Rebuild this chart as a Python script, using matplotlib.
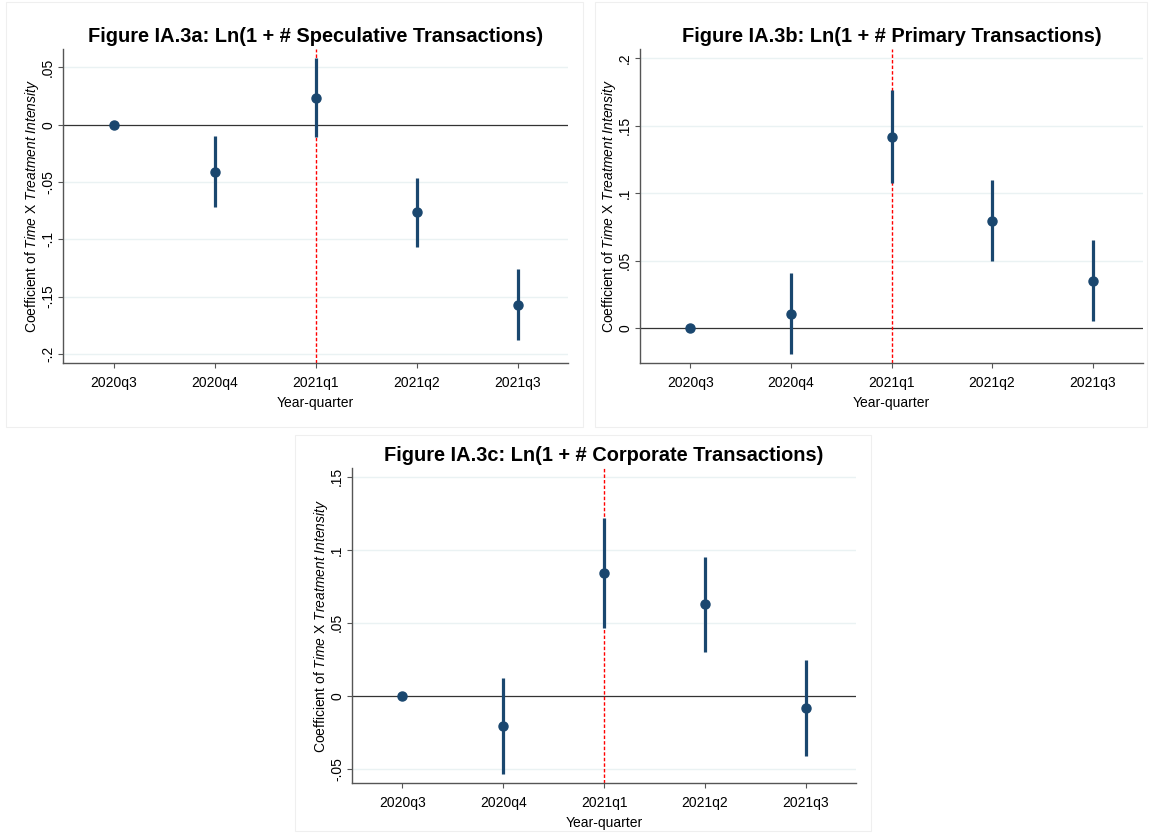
import numpy as np
import matplotlib
matplotlib.use("Agg")
import matplotlib.pyplot as plt
from matplotlib.patches import Rectangle

plt.rcParams['font.family'] = ['Liberation Sans', 'DejaVu Sans']
plt.rcParams['mathtext.fontset'] = 'custom'
plt.rcParams['mathtext.rm'] = 'Liberation Sans'
plt.rcParams['mathtext.it'] = 'Liberation Sans:italic'

# datos
quarters = ['2020q3', '2020q4', '2021q1', '2021q2', '2021q3']

spec_coef = [0.0, -0.041, 0.0235, -0.0765, -0.157]
spec_lo = [np.nan, -0.0718, -0.011, -0.107, -0.188]
spec_hi = [np.nan, -0.0102, 0.0578, -0.0462, -0.126]

prim_coef = [0.0, 0.0104, 0.1416, 0.0795, 0.0351]
prim_lo = [np.nan, -0.0196, 0.1074, 0.0495, 0.0054]
prim_hi = [np.nan, 0.0406, 0.1765, 0.1097, 0.0649]

corp_coef = [0.0, -0.0205, 0.0842, 0.063, -0.0082]
corp_lo = [np.nan, -0.0534, 0.0468, 0.0304, -0.0411]
corp_hi = [np.nan, 0.0123, 0.1217, 0.0954, 0.0247]

spec_ticks = [0.05, 0, -0.05, -0.1, -0.15, -0.2]
spec_ticklabels = ['.05', '0', '-.05', '-.1', '-.15', '-.2']
prim_ticks = [0, 0.05, 0.1, 0.15, 0.2]
prim_ticklabels = ['0', '.05', '.1', '.15', '.2']
corp_ticks = [-0.05, 0, 0.05, 0.1, 0.15]
corp_ticklabels = ['-.05', '0', '.05', '.1', '.15']

W, H = 1149, 833
fig = plt.figure(figsize=(W / 100, H / 100), dpi=100)
fig.patch.set_facecolor('white')

navy = '#1a476f'
gris = '#555555'


def caja(x0, y0, x1, y1):
    # borde tenue alrededor de cada panel (coordenadas en pixeles)
    fig.patches.append(Rectangle((x0 / W, 1 - y1 / H), (x1 - x0) / W, (y1 - y0) / H,
                                 transform=fig.transFigure, fill=False,
                                 edgecolor='#efefef', linewidth=0.8))


def panel(px, titulo, coef, lo, hi, ticks, ticklabels, ylim):
    x0, y0, x1, y1 = px
    ax = fig.add_axes([x0 / W, 1 - y1 / H, (x1 - x0) / W, (y1 - y0) / H])
    x = np.arange(1, len(quarters) + 1)

    for t in ticks:
        if t != 0:
            ax.axhline(t, color='#eaf2f3', linewidth=1.0, zorder=0)
    ax.axhline(0, color='#333333', linewidth=0.9, zorder=1)
    ax.axvline(3, color='#ff0000', linewidth=1.0, linestyle=(0, (2.5, 1.5)), zorder=1)

    for i in range(len(x)):
        if not np.isnan(lo[i]):
            ax.plot([x[i], x[i]], [lo[i], hi[i]], color=navy, linewidth=2.3,
                    solid_capstyle='butt', zorder=2)
    ax.plot(x, coef, 'o', color=navy, markersize=6.5, zorder=3)

    ax.set_xlim(0.5, 5.5)
    ax.set_ylim(ylim)
    ax.set_xticks(x)
    ax.set_xticklabels(quarters, fontsize=10)
    ax.set_yticks(ticks)
    ax.set_yticklabels(ticklabels, fontsize=10, rotation=90, va='center')
    ax.tick_params(axis='x', color=gris, length=3.6, width=0.8, pad=6)
    ax.tick_params(axis='y', color=gris, length=3.6, width=0.8, pad=2)
    for s in ['top', 'right']:
        ax.spines[s].set_visible(False)
    for s in ['left', 'bottom']:
        ax.spines[s].set_color(gris)
        ax.spines[s].set_linewidth(1.0)

    ax.set_xlabel('Year-quarter', fontsize=10, labelpad=4)
    ax.set_ylabel(r'Coefficient of $\mathit{Time}$ X $\mathit{Treatment\ Intensity}$',
                  fontsize=10, va='center')
    ax.yaxis.set_label_coords(-31.0 / (x1 - x0), 0.5)
    ax.set_title(titulo, fontsize=14.4, fontweight='bold', pad=5)
    return ax


caja(6, 2, 583, 427)
caja(595, 2, 1147, 427)
caja(295, 435, 871, 831)

panel((63, 49, 568, 363), 'Figure IA.3a: Ln(1 + # Speculative Transactions)',
      spec_coef, spec_lo, spec_hi, spec_ticks, spec_ticklabels, (-0.208, 0.066))
panel((640, 49, 1143, 363), 'Figure IA.3b: Ln(1 + # Primary Transactions)',
      prim_coef, prim_lo, prim_hi, prim_ticks, prim_ticklabels, (-0.026, 0.207))
panel((352, 468, 856, 783), 'Figure IA.3c: Ln(1 + # Corporate Transactions)',
      corp_coef, corp_lo, corp_hi, corp_ticks, corp_ticklabels, (-0.0596, 0.156))

fig.savefig('out.png', dpi=100)
